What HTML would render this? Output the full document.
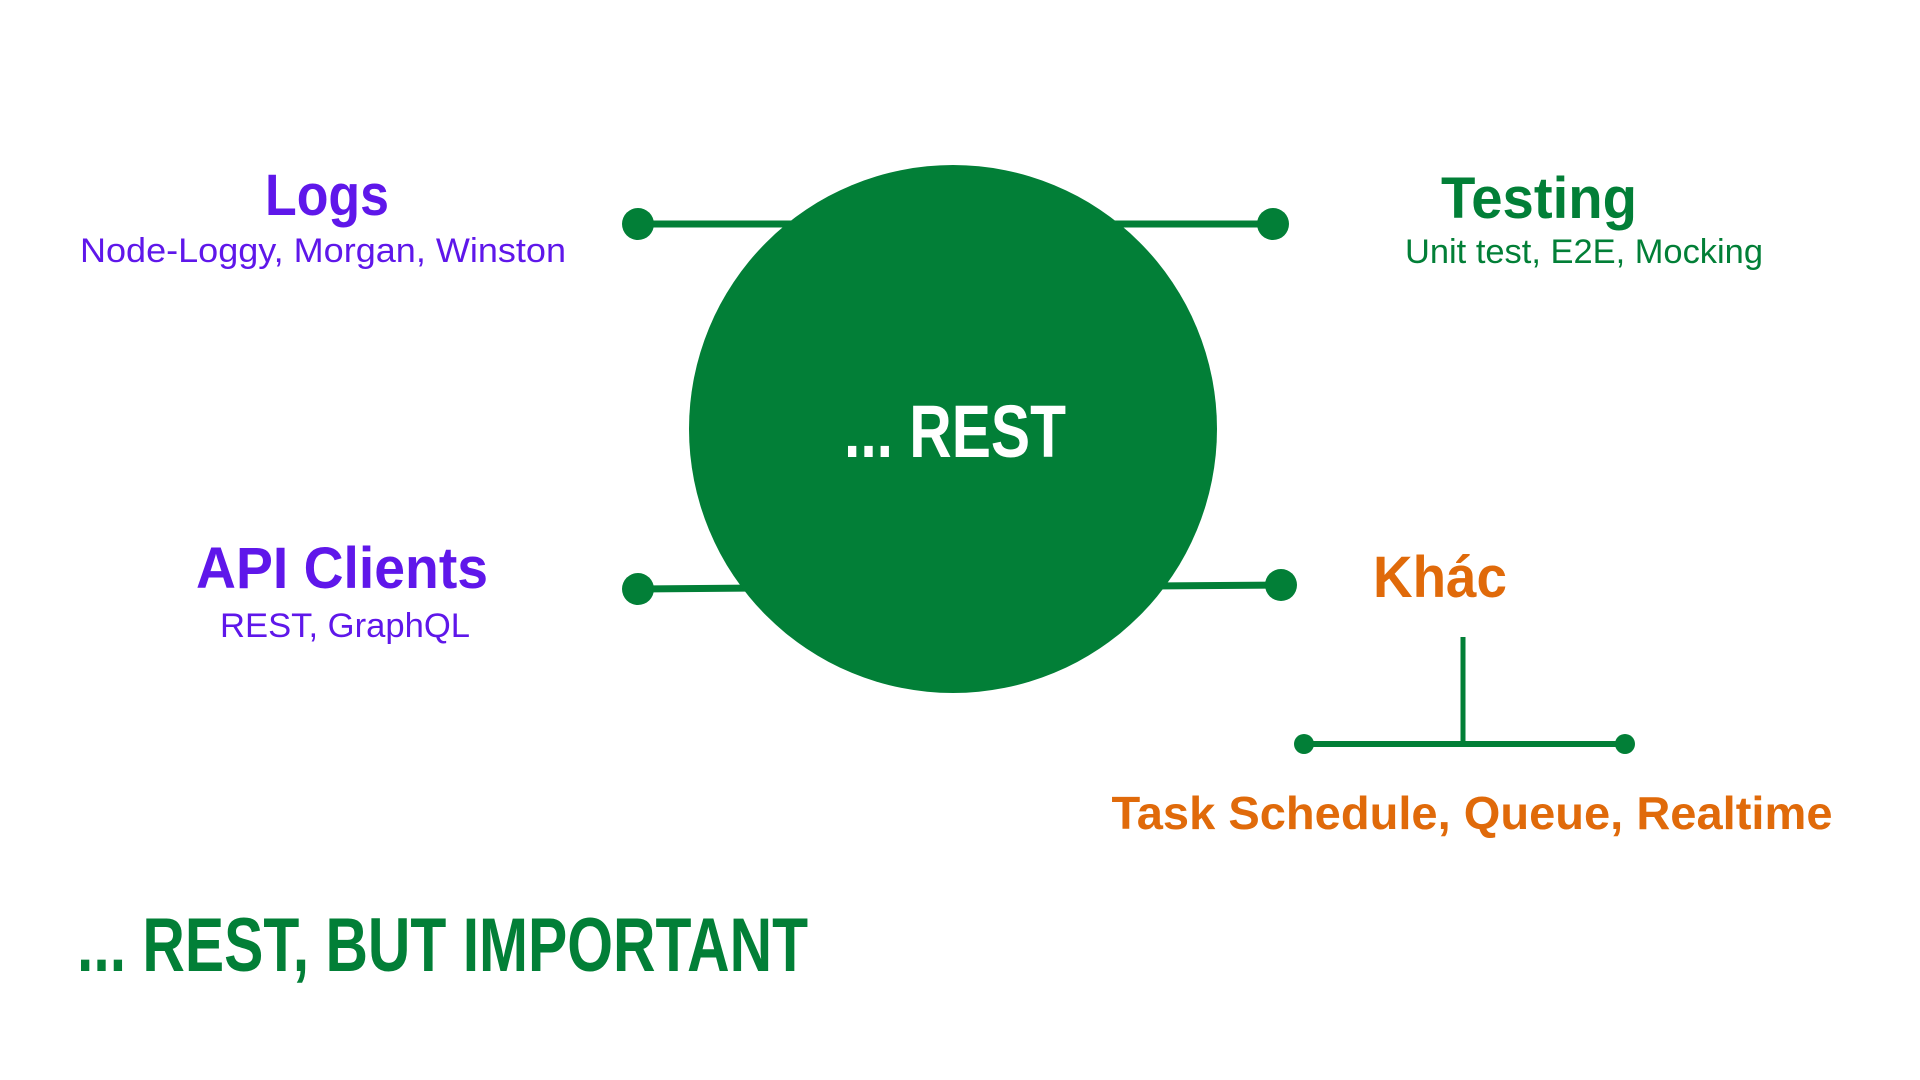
<!DOCTYPE html>
<html><head><meta charset="utf-8"><style>
html,body{margin:0;padding:0;background:#fff;width:1920px;height:1080px;overflow:hidden}
svg{display:block}
</style></head><body>
<svg width="1920" height="1080" viewBox="0 0 1920 1080" xmlns="http://www.w3.org/2000/svg">
<g stroke="#027f37" stroke-width="7" fill="none">
<line x1="638" y1="224" x2="800" y2="224"/>
<line x1="1105" y1="224" x2="1273" y2="224"/>
<line x1="638" y1="589" x2="760" y2="588"/>
<line x1="1150" y1="586" x2="1281" y2="585"/>
<line x1="1463" y1="637" x2="1463" y2="745" stroke-width="5"/>
<line x1="1304" y1="744" x2="1625" y2="744" stroke-width="6"/>
</g>
<g fill="#027f37">
<circle cx="953" cy="429" r="264"/>
<circle cx="638" cy="224" r="16"/>
<circle cx="1273" cy="224" r="16"/>
<circle cx="638" cy="589" r="16"/>
<circle cx="1281" cy="585" r="16"/>
<circle cx="1304" cy="744" r="10"/>
<circle cx="1625" cy="744" r="10"/>
</g>
<g font-family="Liberation Sans, sans-serif" text-anchor="middle">
<text x="327" y="215" font-size="58" font-weight="bold" fill="#5f17ea" textLength="124" lengthAdjust="spacingAndGlyphs">Logs</text>
<text x="323" y="262" font-size="34" fill="#5f17ea" textLength="486" lengthAdjust="spacingAndGlyphs">Node-Loggy, Morgan, Winston</text>
<text x="1539" y="218" font-size="58" font-weight="bold" fill="#027f37" textLength="196" lengthAdjust="spacingAndGlyphs">Testing</text>
<text x="1584" y="263" font-size="34" fill="#027f37" textLength="358" lengthAdjust="spacingAndGlyphs">Unit test, E2E, Mocking</text>
<text x="342" y="588" font-size="58" font-weight="bold" fill="#5f17ea" textLength="292" lengthAdjust="spacingAndGlyphs">API Clients</text>
<text x="345" y="637" font-size="34" fill="#5f17ea" textLength="250" lengthAdjust="spacingAndGlyphs">REST, GraphQL</text>
<text x="1440" y="597" font-size="58" font-weight="bold" fill="#e06a0a" textLength="134" lengthAdjust="spacingAndGlyphs">Khác</text>
<text x="1472" y="829" font-size="46" font-weight="bold" fill="#e06a0a" textLength="721" lengthAdjust="spacingAndGlyphs">Task Schedule, Queue, Realtime</text>
<text x="955" y="457" font-size="74" font-weight="bold" fill="#fff" textLength="222" lengthAdjust="spacingAndGlyphs">... REST</text>
</g>
<text x="77" y="971" font-family="Liberation Sans, sans-serif" font-size="76" font-weight="bold" fill="#027f37" textLength="731" lengthAdjust="spacingAndGlyphs">... REST, BUT IMPORTANT</text>
</svg>
</body></html>
